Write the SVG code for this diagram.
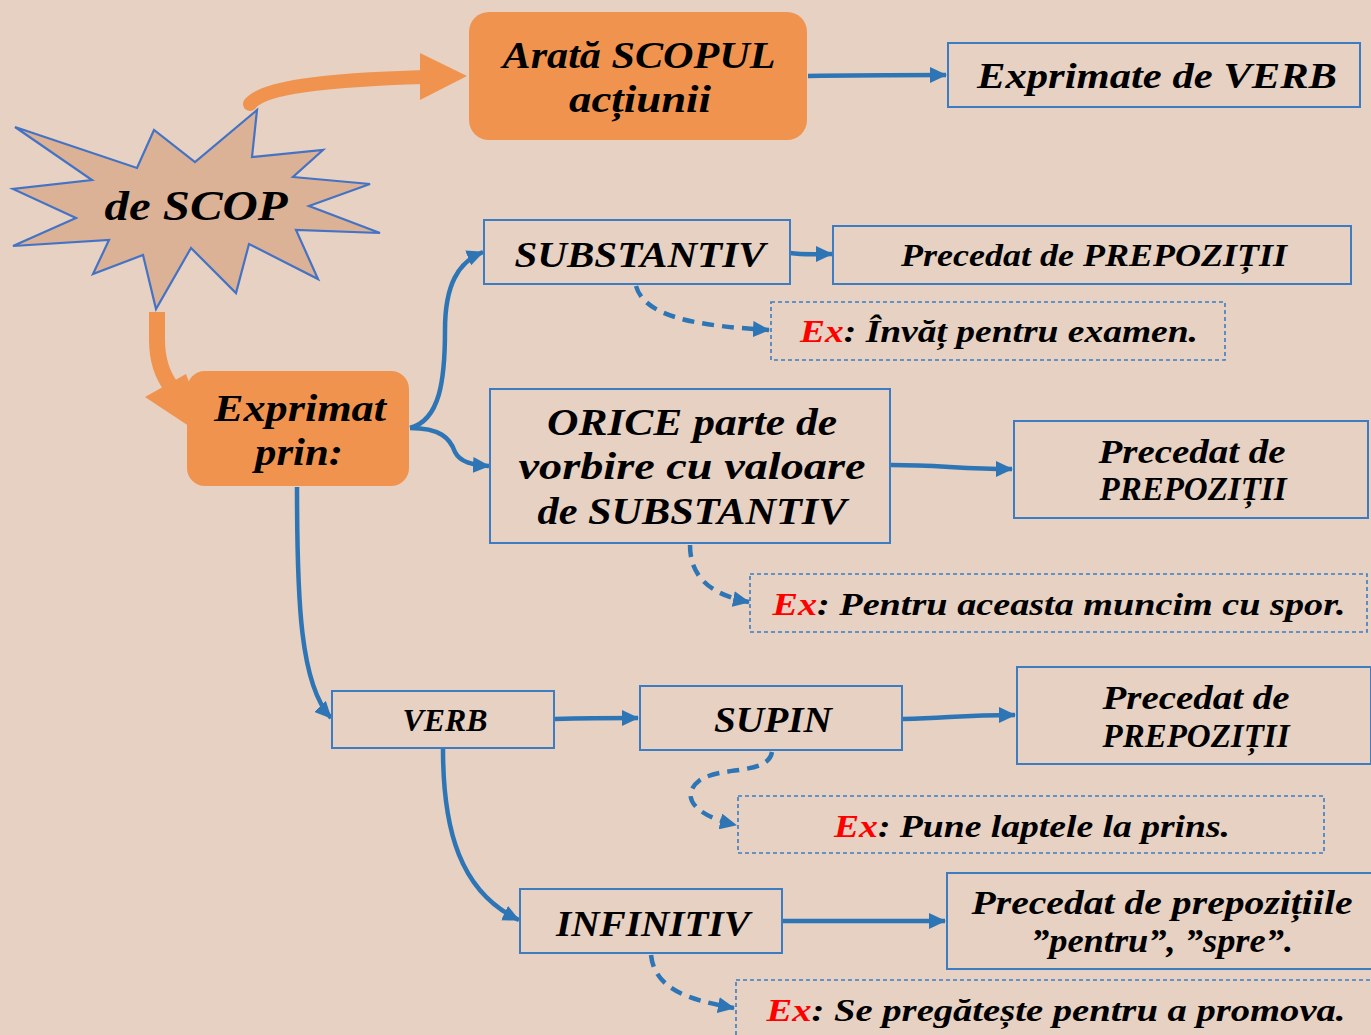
<svg xmlns="http://www.w3.org/2000/svg" width="1371" height="1035" viewBox="0 0 1371 1035">
<defs>
<marker id="ah" markerUnits="userSpaceOnUse" markerWidth="18" markerHeight="16" refX="16" refY="8" orient="auto"><path d="M0,0 L17,8 L0,16 Z" fill="#2E75B6"/></marker>
<style>
.bg{fill:#E6D1C2}
.box{fill:none;stroke:#3C7CC3;stroke-width:2}
.ex{fill:none;stroke:#3C7CC3;stroke-width:1.6;stroke-dasharray:4 3}
.org{fill:#F0934F}
.con{fill:none;stroke:#2E75B6;stroke-width:4.5;marker-end:url(#ah)}
.dash{fill:none;stroke:#2E75B6;stroke-width:4.5;stroke-dasharray:12 8;marker-end:url(#ah)}
text{font-family:"Liberation Serif","DejaVu Serif",serif;font-style:italic;font-weight:bold;fill:#000;text-anchor:middle}
.red{fill:#FF0000}
</style>
</defs>
<rect class="bg" x="0" y="0" width="1371" height="1035"/>

<g id="connectors">
<path d="M250,104 C262,88 320,80 425,77" fill="none" stroke="#F0934F" stroke-width="14" stroke-linecap="round"/>
<polygon class="org" points="420,53 467,76 420,100"/>
<path d="M157,312 L157,340 C157,360 162,375 172,388" fill="none" stroke="#F0934F" stroke-width="16"/>
<polygon class="org" points="145,397 186,374 210,440"/>
<path class="con" d="M808,76 C860,75 900,75 946,75"/>
<path class="con" d="M410,428 C440,420 445,380 445,330 C445,285 458,262 483,252"/>
<path class="con" d="M410,428 C440,428 450,438 455,452 C460,462 472,465 489,466"/>
<path class="con" d="M297,487 C297,600 300,685 331,718"/>
<path class="con" d="M790,253 C805,255 815,254 832,254"/>
<path class="dash" d="M636,286 C645,318 700,326 769,330"/>
<path class="con" d="M891,465 C940,465 960,469 1012,469"/>
<path class="dash" d="M690,545 C690,578 712,595 749,602"/>
<path class="con" d="M555,719 C590,718 600,718 638,718"/>
<path class="con" d="M903,719 C950,718 960,715 1015,715"/>
<path class="dash" d="M772,752 C768,775 722,766 700,780 C680,795 692,815 736,825"/>
<path class="con" d="M443,749 C443,830 460,892 519,920"/>
<path class="con" d="M783,921 L945,921"/>
<path class="dash" d="M651,955 C655,990 690,1000 734,1008"/>
</g>

<g id="star">
<polygon points="257,110 252,157 323,150 293,177 370,184 309,206 380,233 296,230 318,279 249,244 236,293 191,248 156,309 143,255 93,274 109,240 13,246 76,218 13,189 92,180 15,127 137,168 154,130 195,162" fill="#DBB295" stroke="#4472C4" stroke-width="2.2"/>
<text x="196" y="220" font-size="42" textLength="183" lengthAdjust="spacingAndGlyphs">de SCOP</text>
</g>

<g id="arata">
<rect class="org" x="469" y="12" width="338" height="128" rx="20"/>
<text x="639" y="68" font-size="37" textLength="273" lengthAdjust="spacingAndGlyphs">Arată SCOPUL</text>
<text x="640" y="112" font-size="37" textLength="142" lengthAdjust="spacingAndGlyphs">acțiunii</text>
</g>

<g id="exprimate">
<rect class="box" x="948" y="43" width="412" height="64"/>
<text x="1157" y="88" font-size="36" textLength="360" lengthAdjust="spacingAndGlyphs">Exprimate de VERB</text>
</g>

<g id="exprimat">
<rect class="org" x="187" y="371" width="222" height="115" rx="18"/>
<text x="300" y="421" font-size="38" textLength="172" lengthAdjust="spacingAndGlyphs">Exprimat</text>
<text x="299" y="465" font-size="38" textLength="88" lengthAdjust="spacingAndGlyphs">prin:</text>
</g>

<g id="substantiv">
<rect class="box" x="484" y="220" width="306" height="64"/>
<text x="640" y="267" font-size="36" textLength="251" lengthAdjust="spacingAndGlyphs">SUBSTANTIV</text>
</g>

<g id="prec1">
<rect class="box" x="833" y="226" width="518" height="58"/>
<text x="1094" y="266" font-size="32" textLength="386" lengthAdjust="spacingAndGlyphs">Precedat de PREPOZIȚII</text>
</g>

<g id="ex1">
<rect class="ex" x="771" y="302" width="454" height="58"/>
<text x="999" y="342" font-size="32" textLength="398" lengthAdjust="spacingAndGlyphs"><tspan class="red">Ex</tspan>: Învăț pentru examen.</text>
</g>

<g id="orice">
<rect class="box" x="490" y="389" width="400" height="154"/>
<text x="692" y="435" font-size="38" textLength="290" lengthAdjust="spacingAndGlyphs">ORICE parte de</text>
<text x="692" y="479" font-size="38" textLength="347" lengthAdjust="spacingAndGlyphs">vorbire cu valoare</text>
<text x="692" y="524" font-size="38" textLength="309" lengthAdjust="spacingAndGlyphs">de SUBSTANTIV</text>
</g>

<g id="prec2">
<rect class="box" x="1014" y="421" width="354" height="97"/>
<text x="1192" y="463" font-size="34" textLength="187" lengthAdjust="spacingAndGlyphs">Precedat de</text>
<text x="1193" y="500" font-size="34" textLength="187" lengthAdjust="spacingAndGlyphs">PREPOZIȚII</text>
</g>

<g id="ex2">
<rect class="ex" x="750" y="574" width="617" height="58"/>
<text x="1059" y="615" font-size="32" textLength="573" lengthAdjust="spacingAndGlyphs"><tspan class="red">Ex</tspan>: Pentru aceasta muncim cu spor.</text>
</g>

<g id="verb">
<rect class="box" x="332" y="691" width="222" height="57"/>
<text x="445" y="731" font-size="32" textLength="85" lengthAdjust="spacingAndGlyphs">VERB</text>
</g>

<g id="supin">
<rect class="box" x="640" y="686" width="262" height="64"/>
<text x="773" y="732" font-size="36" textLength="118" lengthAdjust="spacingAndGlyphs">SUPIN</text>
</g>

<g id="prec3">
<rect class="box" x="1017" y="667" width="354" height="97"/>
<text x="1196" y="709" font-size="34" textLength="187" lengthAdjust="spacingAndGlyphs">Precedat de</text>
<text x="1196" y="747" font-size="34" textLength="187" lengthAdjust="spacingAndGlyphs">PREPOZIȚII</text>
</g>

<g id="ex3">
<rect class="ex" x="738" y="796" width="586" height="57"/>
<text x="1032" y="837" font-size="32" textLength="396" lengthAdjust="spacingAndGlyphs"><tspan class="red">Ex</tspan>: Pune laptele la prins.</text>
</g>

<g id="infinitiv">
<rect class="box" x="520" y="889" width="262" height="64"/>
<text x="653" y="936" font-size="36" textLength="194" lengthAdjust="spacingAndGlyphs">INFINITIV</text>
</g>

<g id="prec4">
<rect class="box" x="947" y="873" width="430" height="96"/>
<text x="1162" y="914" font-size="34" textLength="381" lengthAdjust="spacingAndGlyphs">Precedat de prepozițiile</text>
<text x="1162" y="952" font-size="34" textLength="262" lengthAdjust="spacingAndGlyphs">”pentru”, ”spre”.</text>
</g>

<g id="ex4">
<rect class="ex" x="736" y="980" width="645" height="65"/>
<text x="1056" y="1021" font-size="32" textLength="579" lengthAdjust="spacingAndGlyphs"><tspan class="red">Ex</tspan>: Se pregătește pentru a promova.</text>
</g>
</svg>
